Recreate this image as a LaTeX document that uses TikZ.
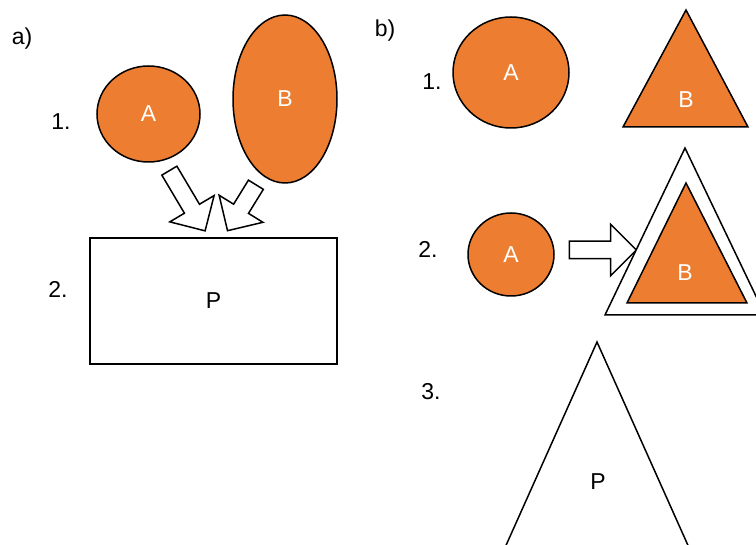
\documentclass[tikz,border=0pt]{standalone}
\usepackage{fontspec}
\setmainfont{Liberation Sans}
\usetikzlibrary{shapes.geometric,shapes.arrows}
\definecolor{orng}{HTML}{ED7D31}
\tikzset{
 blob/.style={ellipse,draw,line width=1.5pt,fill=orng,text=white,inner sep=0},
 tri/.style={draw,line width=1.5pt},
 blockarrow/.style={single arrow,draw,line width=1.5pt,fill=white,inner sep=8pt,single arrow head extend=17pt,single arrow tip angle=90},
 tag/.style={inner sep=0}
}
\begin{document}
\begin{tikzpicture}[x=1pt,y=-1pt,font=\fontsize{23}{27}\selectfont]
\clip (0,0) rectangle (756,545);
% a)
\node[tag] (la) at (22,39) {a)};
\node[tag] (la1) at (61,122) {1.};
\node[tag] (la2) at (58,289) {2.};
\node[blob,minimum width=103pt,minimum height=96pt] (aA) at (148.5,114) {A};
\node[blob,minimum width=104pt,minimum height=168pt] (aB) at (285,99) {B};
\node[draw,line width=1.5pt,minimum width=247pt,minimum height=126pt] (aP) at (213.5,301) {P};
\node[blockarrow,minimum height=70pt,rotate=-59.3] (arA) at (185,197) {};
\node[blockarrow,minimum height=54pt,rotate=-121.7] (arB) at (244,204) {};
% b)
\node[tag] (lb) at (385,31) {b)};
\node[tag] (lb1) at (432,82) {1.};
\node[tag] (lb2) at (428,249) {2.};
\node[tag] (lb3) at (431,392) {3.};
\node[blob,minimum width=116pt,minimum height=111pt] (bA1) at (511,72.5) {A};
\draw[tri,fill=orng] (686,10) -- (748,127) -- (623,127) -- cycle;
\node[text=white] (bB1) at (686,100) {B};
\node[blob,minimum width=86pt,minimum height=83pt] (bA2) at (511,254.5) {A};
\node[blockarrow,minimum height=67pt] (bar) at (598.5,250) {};
\draw[tri,fill=white] (685,148) -- (765,315) -- (605,315) -- cycle;
\draw[tri,fill=orng] (686,183) -- (747,303) -- (627,303) -- cycle;
\node[text=white] (bB2) at (685,273) {B};
\draw[tri] (597,342) -- (699,570) -- (495,570) -- cycle;
\node (bP) at (598,482) {P};
\end{tikzpicture}
\end{document}
